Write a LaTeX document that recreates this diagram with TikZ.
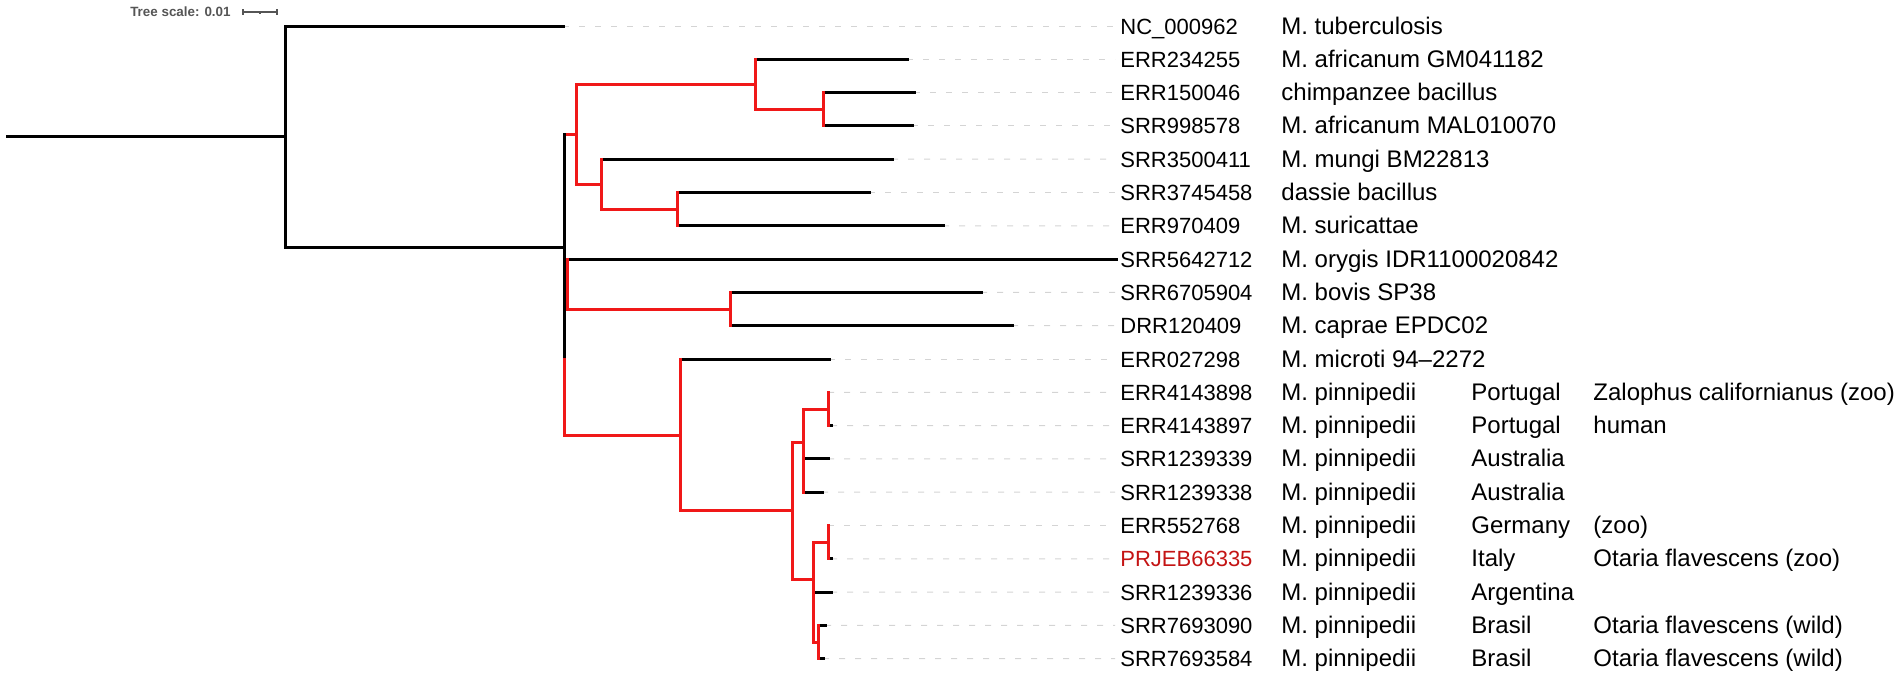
\documentclass[tikz,border=0pt]{standalone}
\usepackage{fontspec}
\setmainfont{Liberation Sans}
\definecolor{cladered}{RGB}{240,24,24}
\definecolor{idred}{RGB}{196,20,20}
\definecolor{leadgray}{RGB}{212,212,212}
\definecolor{scalegray}{RGB}{85,85,85}
\tikzset{
	blk/.style={line width=1.5pt, line cap=rect, black},
	rd/.style={line width=1.5pt, line cap=rect, cladered},
	lead/.style={leadgray, line width=0.5pt, dash pattern=on 3pt off 5pt},
	idlab/.style={anchor=base west, inner sep=0pt, font=\fontsize{11}{13}\selectfont},
	txtlab/.style={anchor=base west, inner sep=0pt, font=\fontsize{12}{14}\selectfont},
}
\begin{document}
\begin{tikzpicture}[x=0.5pt,y=-0.5pt]
				\useasboundingbox (0,0) rectangle (1902,677);
				
				% tree scale
				\node[anchor=base east, inner sep=0pt, text=scalegray, font=\fontsize{6.7}{8}\selectfont\bfseries] (scale) at (231,16.5) {Tree scale: 0.01};
				\draw[scalegray, line width=0.6pt] (243,12) -- (277,12);
				\draw[scalegray, line width=0.6pt] (243,9) -- (243,15) (277,9) -- (277,15) (260,12) -- (260,14);
				
				% inner nodes
				\coordinate (r0) at (7,136.5);
				\coordinate (R) at (285,136.5);
				\coordinate (I) at (564,247);
				\coordinate (Ib) at (567,247);
				\coordinate (Af) at (576,134);
				\coordinate (Aa) at (755,84.6);
				\coordinate (Ac) at (823,109.3);
				\coordinate (Am) at (601,184);
				\coordinate (Ad) at (677,209.2);
				\coordinate (Bv) at (730,309);
				\coordinate (Mi) at (680,435);
				\coordinate (Pi) at (792,510.6);
				\coordinate (Pa) at (803,442);
				\coordinate (Pa1) at (828,409);
				\coordinate (Pb) at (813,579);
				\coordinate (Pb1) at (828,542.2);
				\coordinate (Pc) at (818,642);
				
				% tips
				\coordinate (t0) at (563,26);
				\coordinate (t1) at (907,59.3);
				\coordinate (t2) at (914,92.6);
				\coordinate (t3) at (912,125.9);
				\coordinate (t4) at (892,159.2);
				\coordinate (t5) at (869,192.5);
				\coordinate (t6) at (943,225.8);
				\coordinate (t7) at (1116,259.1);
				\coordinate (t8) at (981,292.4);
				\coordinate (t9) at (1012,325.7);
				\coordinate (t10) at (829,359);
				\coordinate (t11) at (828,392.3);
				\coordinate (t12) at (831,425.6);
				\coordinate (t13) at (828,458.9);
				\coordinate (t14) at (822,492.2);
				\coordinate (t15) at (828,525.5);
				\coordinate (t16) at (831,558.8);
				\coordinate (t17) at (831,592.1);
				\coordinate (t18) at (825,625.4);
				\coordinate (t19) at (823,658.7);
				
				% labels
				\foreach \i/\id/\sp/\co/\ho in {
					0/NC\_000962/M. tuberculosis/{}/{},
					1/ERR234255/M. africanum GM041182/{}/{},
					2/ERR150046/chimpanzee bacillus/{}/{},
					3/SRR998578/M. africanum MAL010070/{}/{},
					4/SRR3500411/M. mungi BM22813/{}/{},
					5/SRR3745458/dassie bacillus/{}/{},
					6/ERR970409/M. suricattae/{}/{},
					7/SRR5642712/M. orygis IDR1100020842/{}/{},
					8/SRR6705904/M. bovis SP38/{}/{},
					9/DRR120409/M. caprae EPDC02/{}/{},
					10/ERR027298/M. microti 94–2272/{}/{},
					11/ERR4143898/M. pinnipedii/Portugal/Zalophus californianus (zoo),
					12/ERR4143897/M. pinnipedii/Portugal/human,
					13/SRR1239339/M. pinnipedii/Australia/{},
					14/SRR1239338/M. pinnipedii/Australia/{},
					15/ERR552768/M. pinnipedii/Germany/(zoo),
					16/{\color{idred}PRJEB66335}/M. pinnipedii/Italy/Otaria flavescens (zoo),
					17/SRR1239336/M. pinnipedii/Argentina/{},
					18/SRR7693090/M. pinnipedii/Brasil/Otaria flavescens (wild),
					19/SRR7693584/M. pinnipedii/Brasil/Otaria flavescens (wild)}{
					\coordinate (e\i) at (1115,{26+33.3*\i});
					\node[idlab] (id\i) at (1120,{34+33.3*\i}) {\id};
					\node[txtlab] (sp\i) at (1281,{34+33.3*\i}) {\sp};
					\node[txtlab] (co\i) at (1471,{34+33.3*\i}) {\co};
					\node[txtlab] (ho\i) at (1593,{34+33.3*\i}) {\ho};
				}
				\foreach \i in {0,...,6,8,9,...,19}
					\draw[lead] (t\i) -- (e\i);
				
				% root
				\draw[blk] (r0) -- (R);
				\draw[blk] (t0) -| (R) |- (I);
				
				% polytomy
				\draw[rd] (I |- Af) -- (Af);
				\draw[blk] (I |- Af) -- (I |- t10);
				\draw[rd] (I |- t10) |- (Mi);
				\draw[blk] (Ib |- t7) -- (t7);
				\draw[rd] (Ib |- t7) |- (Bv);
				
				% africanum clade
				\draw[rd] (Aa) -| (Af) |- (Am);
				\draw[blk] (Aa |- t1) -- (t1);
				\draw[rd] (Aa |- t1) |- (Ac);
				\draw[blk] (Ac |- t2) -- (t2);
				\draw[blk] (Ac |- t3) -- (t3);
				\draw[rd] (Ac |- t2) -- (Ac |- t3);
				\draw[blk] (Am |- t4) -- (t4);
				\draw[rd] (Am |- t4) |- (Ad);
				\draw[blk] (Ad |- t5) -- (t5);
				\draw[blk] (Ad |- t6) -- (t6);
				\draw[rd] (Ad |- t5) -- (Ad |- t6);
				
				% bovis / caprae
				\draw[blk] (Bv |- t8) -- (t8);
				\draw[blk] (Bv |- t9) -- (t9);
				\draw[rd] (Bv |- t8) -- (Bv |- t9);
				
				% microti / pinnipedii
				\draw[blk] (Mi |- t10) -- (t10);
				\draw[rd] (Mi |- t10) |- (Pi);
				\draw[rd] (Pa) -| (Pi) |- (Pb);
				\draw[blk] (Pa |- t13) -- (t13);
				\draw[blk] (Pa |- t14) -- (t14);
				\draw[rd] (Pa1) -| (Pa) -- (Pa |- t14);
				\draw[blk] (Pa1 |- t12) -- (t12);
				\draw[rd] (t11) -- (Pa1 |- t12);
				\draw[blk] (Pb |- t17) -- (t17);
				\draw[rd] (Pb1) -| (Pb) |- (Pc);
				\draw[blk] (Pb1 |- t16) -- (t16);
				\draw[rd] (t15) -- (Pb1 |- t16);
				\draw[blk] (Pc |- t18) -- (t18);
				\draw[blk] (Pc |- t19) -- (t19);
				\draw[rd] (Pc |- t18) -- (Pc |- t19);
			\end{tikzpicture}
\end{document}
